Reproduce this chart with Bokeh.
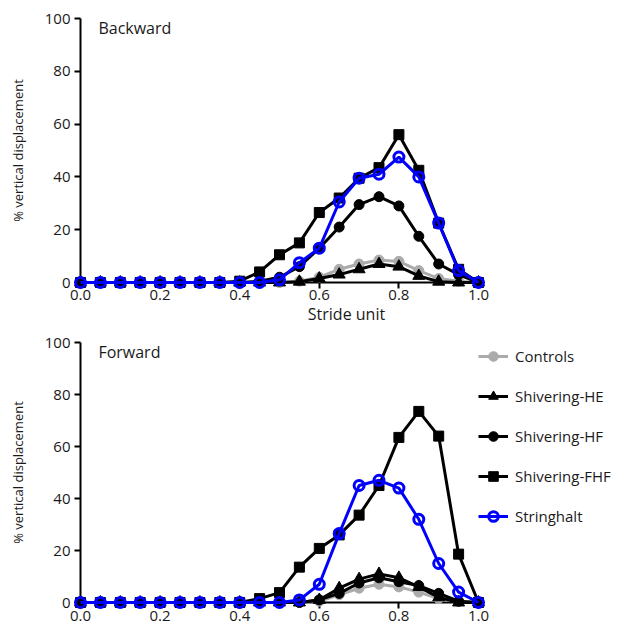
from bokeh.plotting import figure
from bokeh.models import Range1d, FixedTicker, PrintfTickFormatter, Legend, LegendItem, Label
from bokeh.layouts import column
from bokeh.embed import file_html
from bokeh.resources import INLINE

stride = [0.0, 0.05, 0.1, 0.15, 0.2, 0.25, 0.3, 0.35, 0.4, 0.45, 0.5,
          0.55, 0.6, 0.65, 0.7, 0.75, 0.8, 0.85, 0.9, 0.95, 1.0]

# Backward
controls_b = [0, 0, 0, 0, 0, 0, 0, 0, 0, 0, 0, 0.5, 2, 5, 7, 8.5, 8, 4.5, 1.5, 0.5, 0]
he_b = [0, 0, 0, 0, 0, 0, 0, 0, 0, 0, 0, 0.3, 1.5, 3, 5, 7, 6, 2.5, 0.3, 0, 0]
hf_b = [0, 0, 0, 0, 0, 0, 0, 0, 0, 0.5, 2, 6, 13, 21, 29.5, 32.5, 29, 17.5, 7, 3, 0]
fhf_b = [0, 0, 0, 0, 0, 0, 0, 0, 0.5, 4, 10.5, 15, 26.5, 32, 39.5, 43.5, 56, 42.5, 22.5, 5, 0]
str_b = [0, 0, 0, 0, 0, 0, 0, 0, 0, 0, 1, 7.5, 13, 30.5, 39.5, 41, 47.5, 40, 22.5, 4.5, 0]

# Forward
controls_f = [0, 0, 0, 0, 0, 0, 0, 0, 0, 0, 0, 0, 0.5, 3, 5.5, 7, 6, 4, 1.5, 0.5, 0]
he_f = [0, 0, 0, 0, 0, 0, 0, 0, 0, 0, 0, 0, 1, 5.5, 9, 11, 9.5, 6, 2, 0, 0]
hf_f = [0, 0, 0, 0, 0, 0, 0, 0, 0, 0, 0, 0, 1, 3.5, 7.5, 9.5, 8, 6.5, 3.5, 0.5, 0]
fhf_f = [0, 0, 0, 0, 0, 0, 0, 0, 0, 1.5, 3.8, 13.6, 20.8, 26, 33.6, 45, 63.5, 73.5, 64, 18.6, 0]
str_f = [0, 0, 0, 0, 0, 0, 0, 0, 0, 0, 0, 1, 7, 26.5, 45, 47, 44, 32, 15, 4, 0]

series_names = ["Controls", "Shivering-HE", "Shivering-HF", "Shivering-FHF", "Stringhalt"]
x_ticks = [0.0, 0.2, 0.4, 0.6, 0.8, 1.0]
y_ticks = [0, 20, 40, 60, 80, 100]

FONT = "Open Sans"
GRAY = "#ababab"
BLUE = "#0000ff"
BLACK = "#000000"
TXT = "#1a1a1a"

W = 612
LEFT = 80
UNIT_PX = 398  # pixels for one stride unit
X_END = (W - LEFT) / UNIT_PX  # frame extends right to leave room for the legend

styles = [
    dict(color=GRAY, marker="circle", size=10, fill=GRAY, lw=1),
    dict(color=BLACK, marker="triangle", size=12, fill=BLACK, lw=1),
    dict(color=BLACK, marker="circle", size=10, fill=BLACK, lw=1),
    dict(color=BLACK, marker="square", size=10, fill=BLACK, lw=1),
    dict(color=BLUE, marker="circle", size=10, fill=None, lw=3),
]


def make_panel(title, series, height, top, bottom, xlabel, xstandoff):
    p = figure(width=W, height=height, x_range=Range1d(0, X_END), y_range=Range1d(0, 100),
               output_backend="svg", toolbar_location=None,
               min_border_left=LEFT, min_border_right=0,
               min_border_top=top, min_border_bottom=bottom)
    p.outline_line_color = None
    p.grid.visible = False
    for ax in (p.xaxis[0], p.yaxis[0]):
        ax.axis_line_width = 2
        ax.major_tick_line_width = 2
        ax.major_tick_out = 6
        ax.major_tick_in = 0
        ax.minor_tick_out = 0
        ax.minor_tick_in = 0
        ax.major_label_text_font = FONT
        ax.major_label_text_font_size = "15px"
        ax.major_label_text_color = TXT
        ax.axis_label_text_font = FONT
        ax.axis_label_text_font_style = "normal"
        ax.axis_label_text_color = TXT
    p.xaxis.bounds = (0, 1)
    p.yaxis.bounds = (0, 100)
    p.xaxis.ticker = FixedTicker(ticks=x_ticks)
    p.xaxis.formatter = PrintfTickFormatter(format="%.1f")
    p.xaxis.major_label_standoff = xstandoff
    p.yaxis.ticker = FixedTicker(ticks=y_ticks)
    p.yaxis.major_label_standoff = 4
    p.yaxis.axis_label = "% vertical displacement"
    p.yaxis.axis_label_text_font_size = "13px"
    p.yaxis.axis_label_standoff = 15
    if xlabel:
        p.xaxis.axis_label = xlabel
        p.xaxis.axis_label_text_font_size = "16px"
        p.xaxis.axis_label_standoff = 0

    items = []
    for name, vals, st in zip(series_names, series, styles):
        ln = p.line(stride, vals, line_color=st["color"], line_width=3, level="overlay")
        sc = p.scatter(stride, vals, marker=st["marker"], size=st["size"],
                       fill_color=st["fill"], line_color=st["color"],
                       line_width=st["lw"], level="overlay")
        items.append(LegendItem(label=name, renderers=[ln, sc]))

    p.add_layout(Label(x=0.045, y=100.5, text=title, text_baseline="top",
                       text_font=FONT, text_font_size="16px", text_color=TXT))
    return p, items


top, _ = make_panel("Backward", [controls_b, he_b, hf_b, fhf_b, str_b],
                    height=331, top=18, bottom=49, xlabel="Stride unit", xstandoff=1)
bot, items = make_panel("Forward", [controls_f, he_f, hf_f, fhf_f, str_f],
                        height=300, top=11, bottom=29, xlabel=None, xstandoff=2)

legend = Legend(items=items, location=(UNIT_PX, 74), glyph_width=30, glyph_height=24,
                label_height=24, spacing=16, label_standoff=7, padding=0, margin=0,
                border_line_alpha=0, background_fill_alpha=0,
                label_text_font=FONT, label_text_font_size="15px",
                label_text_color=TXT)
bot.add_layout(legend, "center")

layout = column(top, bot, spacing=0)
open("out.html", "w").write(file_html(layout, INLINE))
